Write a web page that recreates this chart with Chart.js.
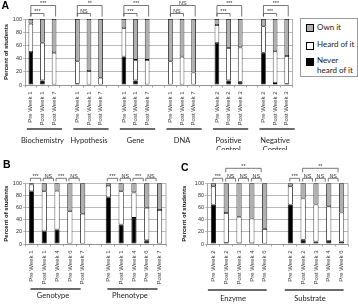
<!DOCTYPE html>
<html>
<head>
<meta charset="utf-8">
<script src="https://cdn.jsdelivr.net/npm/chart.js@4.4.1/dist/chart.umd.min.js"></script>
<style>
  body { margin: 0; background: #fff; width: 358px; height: 304px; overflow: hidden; position: relative; }
  canvas { position: absolute; }
  .panel { position: absolute; font: bold 10.5px "Liberation Sans", Arial, sans-serif; line-height: 10.5px; color: #000; }
  #legend { position: absolute; left: 300px; top: 18px; width: 56px; height: 57px; border: 1px solid #9a9a9a; font: 8px Lato, sans-serif; color: #222; }
  #legend .sw { position: absolute; left: 5px; width: 6px; height: 6px; border: 0.8px solid #000; }
  #legend .tx { position: absolute; left: 16px; line-height: 9.5px; white-space: nowrap; }
</style>
</head>
<body>
<canvas id="chartA" width="298" height="150" style="left:0;top:0"></canvas>
<canvas id="chartB" width="175" height="154" style="left:0;top:150px"></canvas>
<canvas id="chartC" width="180" height="154" style="left:178px;top:150px"></canvas>
<div class="panel" style="left:1.5px;top:-0.5px">A</div>
<div class="panel" style="left:3px;top:158.8px">B</div>
<div class="panel" style="left:181px;top:161.8px">C</div>
<div id="legend"></div>

<script>
// series (bottom to top of each stack)
const seriesNames = ['Never heard of it', 'Heard of it', 'Own it'];
const seriesColors = ['#000000', '#ffffff', '#b0b0b0'];

// Panel A - terms, '' = empty slot between groups
const labelsA = ['Pre Week 1', 'Post Week 1', 'Post Week 7', '',
  'Pre Week 1', 'Post Week 1', 'Post Week 7', '',
  'Pre Week 1', 'Post Week 1', 'Post Week 7', '',
  'Pre Week 1', 'Post Week 1', 'Post Week 7', '',
  'Pre Week 2', 'Post Week 2', 'Post Week 3', '',
  'Pre Week 2', 'Post Week 2', 'Post Week 3'];
const neverA = [50, 7, 0, null, 2, 0, 0, null, 43, 7, 0, null, 0, 0, 0, null, 64, 7, 5, null, 49, 3, 2];
const heardA = [43, 57, 49, null, 34, 21, 11, null, 43, 31, 38, null, 36, 43, 19, null, 27, 49, 52, null, 40, 48, 42];
const ownA = [7, 36, 51, null, 64, 79, 89, null, 14, 62, 62, null, 64, 57, 81, null, 9, 44, 43, null, 11, 49, 56];
const groupsA = [['Biochemistry', 0, 2], ['Hypothesis', 4, 6], ['Gene', 8, 10], ['DNA', 12, 14],
  [['Positive', 'Control'], 16, 18], [['Negative', 'Control'], 20, 22]];
const bracketsA = [[0, 1, '***', 0], [0, 2, '***', 1], [4, 5, 'NS', 0], [4, 6, '**', 1],
  [8, 9, '***', 0], [8, 10, '***', 1], [12, 13, 'NS', 0], [12, 14, 'NS', 1],
  [16, 17, '***', 0], [16, 18, '***', 1], [20, 21, '***', 0], [20, 22, '***', 1]];

// Panel B - genotype / phenotype
const labelsB = ['Pre Week 1', 'Post Week 1', 'Pre Week 4', 'Pre Week 6', 'Post Week 7', '',
  'Pre Week 1', 'Post Week 1', 'Pre Week 4', 'Pre Week 6', 'Post Week 7'];
const neverB = [87, 21, 24, 0, 0, null, 77, 32, 43, 6, 0];
const heardB = [11, 66, 64, 54, 50, null, 19, 55, 42, 54, 56];
const ownB = [2, 13, 12, 46, 50, null, 4, 13, 15, 40, 44];
const groupsB = [['Genotype', 0, 4], ['Phenotype', 6, 10]];
const bracketsB = [[0, 1, '***', 0], [1, 2, 'NS', 0], [2, 3, '***', 0], [3, 4, 'NS', 0],
  [6, 7, '***', 0], [7, 8, 'NS', 0], [8, 9, '***', 0], [9, 10, 'NS', 0]];

// Panel C - enzyme / substrate
const labelsC = ['Pre Week 2', 'Post Week 2', 'Post Week 3', 'Pre Week 4', 'Pre Week 6', '',
  'Pre Week 2', 'Post Week 2', 'Post Week 3', 'Pre Week 4', 'Pre Week 6'];
const neverC = [65, 2, 1, 1, 0, null, 65, 7, 4, 5, 4];
const heardC = [30, 49, 44, 41, 25, null, 30, 68, 61, 57, 48];
const ownC = [5, 49, 55, 58, 75, null, 5, 25, 35, 38, 48];
const groupsC = [['Enzyme', 0, 4], ['Substrate', 6, 10]];
const bracketsC = [[0, 1, '***', 0], [1, 2, 'NS', 0], [2, 3, 'NS', 0], [3, 4, 'NS', 0], [1, 4, '**', 1],
  [6, 7, '***', 0], [7, 8, 'NS', 0], [8, 9, 'NS', 0], [9, 10, 'NS', 0], [7, 10, '**', 1]];

const tickFont = { family: '"Liberation Sans", Arial, sans-serif', size: 6 };

// brackets, group underlines and group names
const marks = {
  id: 'marks',
  afterDraw(chart, args, o) {
    const ctx = chart.ctx, xs = chart.scales.x, a = chart.chartArea;
    ctx.save();
    // right edge of plot
    ctx.strokeStyle = '#9a9a9a';
    ctx.lineWidth = 0.8;
    ctx.beginPath();
    ctx.moveTo(a.right, a.top);
    ctx.lineTo(a.right, a.bottom);
    ctx.stroke();

    ctx.strokeStyle = '#555';
    ctx.fillStyle = '#333';
    ctx.font = '5.4px "Liberation Sans", Arial, sans-serif';
    ctx.textAlign = 'center';
    ctx.textBaseline = 'alphabetic';
    o.brackets.forEach(b => {
      const lv = o.levels[b[3]];
      const x0 = xs.getPixelForValue(b[0]) + o.span[0];
      const x1 = xs.getPixelForValue(b[1]) + o.span[1];
      const y = a.top + lv.line;
      ctx.beginPath();
      ctx.moveTo(x0, y + lv.leg);
      ctx.lineTo(x0, y);
      ctx.lineTo(x1, y);
      ctx.lineTo(x1, y + lv.leg);
      ctx.stroke();
      ctx.fillText(b[2], (x0 + x1) / 2, y - 0.6);
    });

    ctx.strokeStyle = '#3a3a3a';
    ctx.lineWidth = 1.6;
    ctx.fillStyle = '#222';
    ctx.font = '7.5px Lato, sans-serif';
    ctx.textBaseline = 'middle';
    o.groups.forEach(g => {
      const c0 = xs.getPixelForValue(g[1]), c1 = xs.getPixelForValue(g[2]);
      const y = a.bottom + o.lineY;
      ctx.beginPath();
      ctx.moveTo(c0 + o.gspan[0], y);
      ctx.lineTo(c1 + o.gspan[1], y);
      ctx.stroke();
      const lines = Array.isArray(g[0]) ? g[0] : [g[0]];
      lines.forEach((t, i) => ctx.fillText(t, (c0 + c1) / 2 + o.textShift, a.bottom + o.textY + i * 9));
    });
    ctx.restore();
  }
};

function makeChart(id, labels, never, heard, own, yWidth, xHeight, pad, marksOpts) {
  const data = [never, heard, own];
  new Chart(document.getElementById(id), {
    type: 'bar',
    data: {
      labels: labels,
      datasets: data.map((d, i) => ({
        label: seriesNames[i],
        data: d,
        backgroundColor: seriesColors[i],
        borderColor: '#000',
        borderWidth: 0.8,
        borderSkipped: false,
        categoryPercentage: 1,
        barPercentage: 0.4
      }))
    },
    options: {
      responsive: false,
      animation: false,
      layout: { padding: pad },
      plugins: { legend: { display: false }, tooltip: { enabled: false }, marks: marksOpts },
      scales: {
        x: {
          stacked: true,
          afterFit(s) { s.height = xHeight; },
          border: { color: '#8a8a8a', width: 0.8 },
          grid: { offset: true, drawOnChartArea: false, tickLength: 2.5, color: '#8a8a8a', lineWidth: 0.8 },
          ticks: { autoSkip: false, minRotation: 90, maxRotation: 90, padding: 4, color: '#3a3a3a', font: tickFont }
        },
        y: {
          stacked: true,
          min: 0, max: 100,
          afterFit(s) { s.width = yWidth; },
          border: { color: '#8a8a8a', width: 0.8 },
          grid: { color: '#a8a8a8', lineWidth: 0.8, tickLength: 2 },
          ticks: { stepSize: 20, padding: 1, color: '#333', font: { family: tickFont.family, size: 5.5 } },
          title: {
            display: true, text: 'Percent of students', color: '#111',
            padding: { top: 2.5, bottom: 0 },
            font: { family: '"Liberation Sans", Arial, sans-serif', size: 6, weight: 'bold' }
          }
        }
      }
    },
    plugins: [marks]
  });
}

makeChart('chartA', labelsA, neverA, heardA, ownA, 25, 65, { top: 19, right: 3, left: 0, bottom: 0 }, {
  brackets: bracketsA, groups: groupsA,
  levels: [{ line: -5.5, leg: 3 }, { line: -13.5, leg: 11 }],
  span: [0, 1.5], lineY: 44, textY: 56, gspan: [-4, 8], textShift: 0
});
makeChart('chartB', labelsB, neverB, heardB, ownB, 25, 60, { top: 33.3, right: 9, left: 0, bottom: 0 }, {
  brackets: bracketsB, groups: groupsB,
  levels: [{ line: -5, leg: 3 }],
  span: [-1, -3.5], lineY: 45, textY: 52, gspan: [-1, -2], textShift: -4
});
makeChart('chartC', labelsC, neverC, heardC, ownC, 29, 60, { top: 33.3, right: 10, left: 0, bottom: 0 }, {
  brackets: bracketsC, groups: groupsC,
  levels: [{ line: -5, leg: 3.3 }, { line: -15, leg: 4 }],
  span: [-0.5, -3.5], lineY: 46, textY: 55, gspan: [-5.5, 2], textShift: -6
});

// legend, top entry first
const legend = document.getElementById('legend');
const legendRows = [[2, 8.7, 'Own it'], [1, 26, 'Heard of it'], [0, 42, 'Never<br>heard of it']];
legendRows.forEach(r => {
  const sw = document.createElement('span');
  sw.className = 'sw';
  sw.style.top = (r[1] - 3.5) + 'px';
  sw.style.background = seriesColors[r[0]];
  legend.appendChild(sw);
  const tx = document.createElement('span');
  tx.className = 'tx';
  tx.style.top = (r[1] - 5) + 'px';
  tx.innerHTML = r[2];
  legend.appendChild(tx);
});
</script>
</body>
</html>
